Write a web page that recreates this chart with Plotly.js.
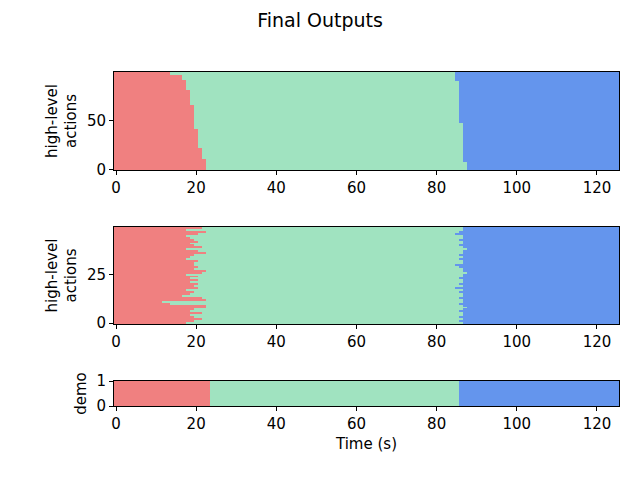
<!DOCTYPE html>
<html>
<head>
<script src="https://cdn.plot.ly/plotly-3.0.1.min.js"></script>
<style>body{margin:0}</style>
</head>
<body>
<div id="plot" style="width:640px;height:480px"></div>
<script>
// Time bins (s)
const nBins = 126;

// Top panel: 100 runs, boundaries given as runs from bottom row upward
const topRedEdges = [22.5, 21.5, 20.5, 19.5, 18.5, 17.5, 16.5, 13.5];
const topRedCounts = [11, 11, 20, 24, 16, 10, 5, 3];
const topBlueEdges = [87.5, 86.5, 85.5, 84.5];
const topBlueCounts = [8, 40, 43, 9];

// Middle panel: 50 runs, bottom row first
const midRedEdges = [17.5, 19.5, 21.5, 19.5, 18.5, 21.5, 18.5, 19.5, 22.5, 22.5,
                     13.5, 11.5, 22.5, 21.5, 16.5, 18.5, 19.5, 17.5, 20.5, 19.5,
                     20.5, 18.5, 20.5, 18.5, 20.5, 17.5, 21.5, 22.5, 19.5, 20.5,
                     19.5, 19.5, 20.5, 17.5, 18.5, 19.5, 22.5, 20.5, 17.5, 21.5,
                     19.5, 18.5, 20.5, 19.5, 18.5, 17.5, 20.5, 22.5, 17.5, 21.5];
const midBlueEdges = [86.5, 85.5, 86.5, 85.5, 86.5, 86.5, 85.5, 86.5, 87.5, 86.5,
                      85.5, 86.5, 86.5, 85.5, 86.5, 86.5, 85.5, 86.5, 84.5, 86.5,
                      85.5, 86.5, 86.5, 85.5, 86.5, 86.5, 87.5, 86.5, 86.5, 85.5,
                      84.5, 86.5, 86.5, 85.5, 86.5, 85.5, 86.5, 86.5, 87.5, 86.5,
                      85.5, 86.5, 86.5, 85.5, 86.5, 86.5, 84.5, 85.5, 86.5, 86.5];

// Demo panel: single row
const demoRedEdge = 23.5;
const demoBlueEdge = 85.5;

const colors = ['#f08080', '#a0e3c0', '#6495ed'];

function expandRuns(edges, counts) {
    const out = [];
    edges.forEach((e, i) => { for (let k = 0; k < counts[i]; k++) out.push(e); });
    return out;
}

function buildRows(redEdges, blueEdges) {
    return redEdges.map((r, i) => {
        const row = [];
        for (let c = 0; c < nBins; c++) row.push(c < r ? 0 : (c < blueEdges[i] ? 1 : 2));
        return row;
    });
}

const colorscale = [[0, colors[0]], [0.333, colors[0]], [0.333, colors[1]],
                    [0.667, colors[1]], [0.667, colors[2]], [1, colors[2]]];

const topZ = buildRows(expandRuns(topRedEdges, topRedCounts), expandRuns(topBlueEdges, topBlueCounts));
const midZ = buildRows(midRedEdges, midBlueEdges);
const demoZ = buildRows([demoRedEdge], [demoBlueEdge]);

function hm(z, xa, ya, y0) {
    return {type: 'heatmap', z: z, x0: 0, dx: 1, y0: y0, dy: 1, zmin: 0, zmax: 2,
            colorscale: colorscale, showscale: false, xaxis: xa, yaxis: ya, hoverinfo: 'skip'};
}

const data = [hm(topZ, 'x', 'y', 0), hm(midZ, 'x2', 'y2', 0), hm(demoZ, 'x3', 'y3', 0.5)];

const xdom = [114 / 640, 619 / 640];
const axBase = {
    showline: true, mirror: true, linecolor: 'black', linewidth: 1,
    ticks: 'outside', ticklen: 4, tickcolor: 'black', showgrid: false, zeroline: false,
    tickfont: {size: 15, color: 'black'}
};
const xAx = (anchor) => Object.assign({}, axBase, {
    domain: xdom, anchor: anchor, range: [-0.5, 125.5], tickvals: [0, 20, 40, 60, 80, 100, 120]
});

const layout = {
    width: 640, height: 480,
    margin: {l: 0, r: 0, t: 0, b: 0},
    paper_bgcolor: 'white', plot_bgcolor: 'white',
    font: {family: 'DejaVu Sans', color: 'black'},
    title: {text: 'Final Outputs', x: 0.5, xanchor: 'center', y: 0.957, yanchor: 'middle', font: {size: 19}},
    xaxis: xAx('y'),
    xaxis2: xAx('y2'),
    xaxis3: Object.assign(xAx('y3'), {title: {text: 'Time (s)', font: {size: 15}, standoff: 6}}),
    yaxis: Object.assign({}, axBase, {domain: [1 - 170 / 480, 1 - 72 / 480], anchor: 'x',
        range: [-0.5, 99.5], tickvals: [0, 50, 100],
        title: {text: 'high-level<br>actions', font: {size: 15}, standoff: 6}}),
    yaxis2: Object.assign({}, axBase, {domain: [1 - 324 / 480, 1 - 227 / 480], anchor: 'x2',
        range: [-0.5, 49.5], tickvals: [0, 25],
        title: {text: 'high-level<br>actions', font: {size: 15}, standoff: 6}}),
    yaxis3: Object.assign({}, axBase, {domain: [1 - 406 / 480, 1 - 381 / 480], anchor: 'x3',
        range: [0, 1], tickvals: [0, 1],
        title: {text: 'demo', font: {size: 15}, standoff: 6}})
};

Plotly.newPlot('plot', data, layout, {staticPlot: true});
</script>
</body>
</html>
